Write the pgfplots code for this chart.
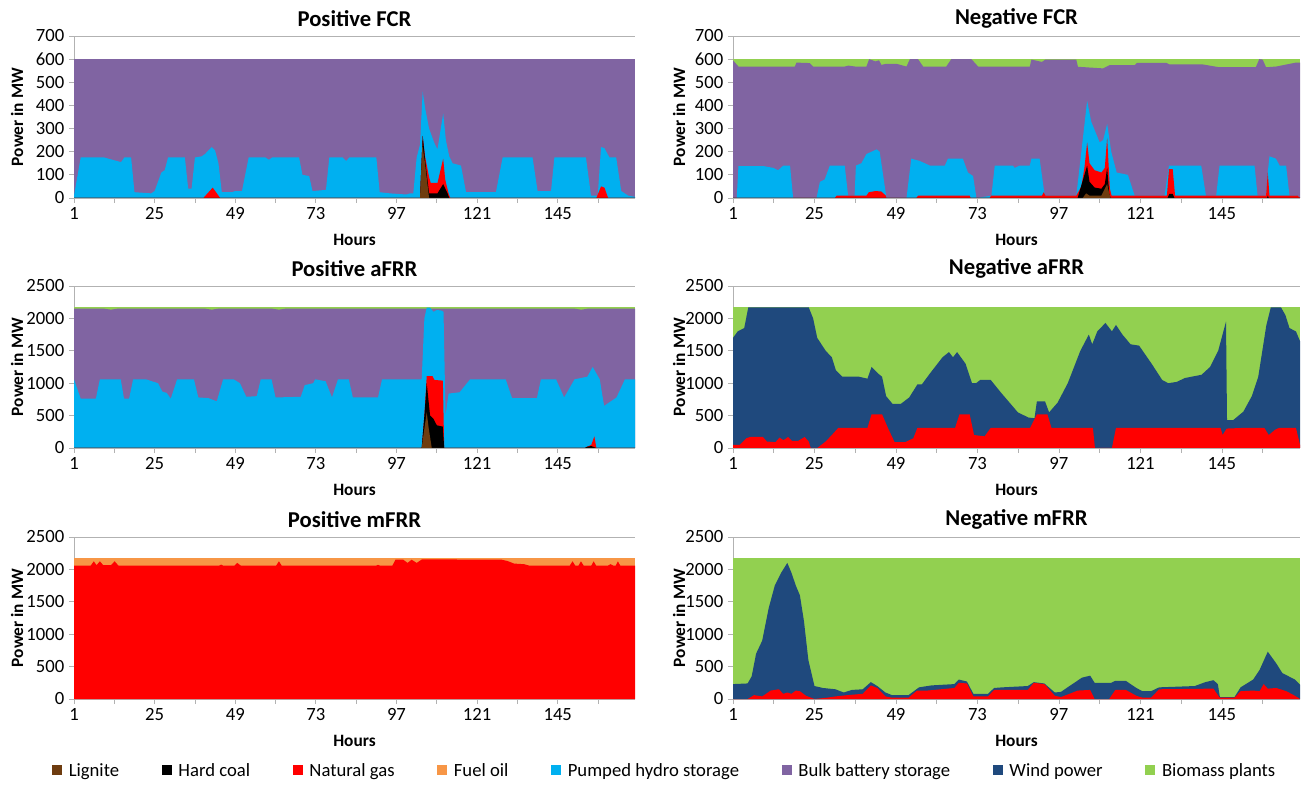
\documentclass[border=0pt]{standalone}
\usepackage{pgfplots}
\pgfplotsset{compat=1.18}
\usepackage{fontspec}
\setmainfont{Carlito}
\definecolor{lig}{RGB}{110,60,15}
\definecolor{coal}{RGB}{0,0,0}
\definecolor{gas}{RGB}{255,0,0}
\definecolor{oil}{RGB}{247,150,70}
\definecolor{hydro}{RGB}{0,176,240}
\definecolor{batt}{RGB}{128,100,162}
\definecolor{wind}{RGB}{31,73,125}
\definecolor{bio}{RGB}{146,208,80}
\pgfplotsset{
  ar/.style={draw=none, fill=#1, forget plot},
  myaxis/.style={
    scale only axis, height=121.5pt, xmin=1, xmax=168, ymin=0,
    enlargelimits=false,
    xtick={1,13,...,157}, xticklabels={1,,25,,49,,73,,97,,121,,145,},
    axis x line*=bottom, axis y line*=left,
    axis line style={draw=gray!60, line width=0.6pt, -},
    tick align=outside, major tick length=3.75pt,
    tick style={gray!60, line width=0.6pt},
    ymajorgrids, grid style={gray!60, line width=0.6pt},
    tick label style={font=\fontsize{14}{14}\selectfont},
    /pgf/number format/assume math mode=true,
    /pgf/number format/1000 sep={},
    xlabel=Hours, ylabel=Power in MW,
    label style={font=\bfseries\fontsize{13}{13}\selectfont},
    title style={font=\bfseries\fontsize{17}{17}\selectfont, at={(axis description cs:0.5,1)}, anchor=center, yshift=7pt},
    xlabel style={at={(axis description cs:0.5,0)}, anchor=center, yshift=-31.5pt},
    ylabel style={at={(axis description cs:-0.1016,0.5)}, anchor=center},
  },
  fcr/.style={ymax=700, ytick={0,100,...,700}},
  frr/.style={ymax=2500, ytick={0,500,...,2500}},
  leftcol/.style={width=420.75pt},
  rightcol/.style={width=425.25pt, ylabel style={at={(axis description cs:-0.095,0.5)}}},
}
\begin{document}
\begin{tikzpicture}
\useasboundingbox (0,0) rectangle (978.75pt,588.75pt);

% ---------------- Positive FCR
\begin{axis}[myaxis, fcr, leftcol, at={(55.5pt,440.25pt)}, anchor=south west, title={Positive FCR}]
\addplot[ar=batt] coordinates {(1,600)(168,600)} \closedcycle;
\addplot[ar=hydro] coordinates {(1,10)(3,175)(10,175)(15,155)(16,175)(18,175)(19,25)(24,20)(25,30)(27,110)(28,120)(29,175)(34,175)(35,40)(36,40)(37,175)(39,180)(40,190)(42,220)(43,205)(44,150)(45,25)(48,25)(49,30)(51,30)(53,175)(58,175)(59,165)(60,175)(68,175)(69,100)(71,95)(72,30)(76,35)(77,175)(81,175)(82,160)(83,175)(91,175)(92,25)(95,20)(100,15)(101,20)(102,20)(103,175)(104,230)(104.8,460)(105.5,390)(106.7,300)(108.2,240)(109.2,210)(110.9,365)(111.7,250)(112.7,180)(113.7,150)(116.2,140)(117.7,25)(126.6,25)(128.6,175)(137.5,175)(139,30)(143,30)(144,175)(153.4,175)(154.9,10)(156.9,10)(157.9,220)(158.9,215)(160.4,175)(162.4,175)(163.9,30)(166,10)(168,5)} \closedcycle;
\addplot[ar=gas] coordinates {(1,0)(39.5,0)(42.3,45)(44.5,0)(104,0)(104.8,268)(105.5,180)(106.7,90)(107.2,65)(109.2,65)(110.9,170)(111.5,80)(112.5,20)(113,0)(156.5,0)(157.9,50)(158.9,45)(160,0)(168,0)} \closedcycle;
\addplot[ar=coal] coordinates {(1,0)(104,0)(104.8,268)(105.5,170)(106.7,20)(109.2,20)(110.9,60)(112.2,20)(112.7,0)(168,0)} \closedcycle;
\addplot[ar=lig] coordinates {(1,0)(104,0)(104.7,230)(105.5,150)(106.7,0)(168,0)} \closedcycle;
\end{axis}

% ---------------- Negative FCR
\begin{axis}[myaxis, fcr, rightcol, at={(549.75pt,440.25pt)}, anchor=south west, title={Negative FCR}]
\addplot[ar=bio] coordinates {(1,600)(168,600)} \closedcycle;
\addplot[ar=batt] coordinates {(1,595)(2.6,568)(19.2,568)(19.7,585)(23.6,583)(24.6,568)(33.9,568)(35,572)(37,568)(40.3,568)(41.1,600)(43,590)(44,595)(44.7,575)(46.2,580)(49.1,580)(52.1,568)(53.1,600)(55.5,600)(57,568)(63.8,568)(65.3,600)(71.2,600)(73.2,568)(88.4,568)(88.9,598)(92,588)(93,598)(102.1,598)(102.6,567)(110,560)(111.9,574)(119.3,574)(120,584)(128.6,584)(129.6,577)(139.4,577)(143.8,566)(155,566)(156,600)(157,598)(158,565)(161,568)(166.8,585)(168,585)} \closedcycle;
\addplot[ar=hydro] coordinates {(1,0)(2.1,0)(2.6,138)(9.9,138)(12.9,130)(14.3,120)(15.8,140)(17.8,140)(18.7,0)(25.6,0)(26.6,70)(28,80)(29.5,140)(33.9,140)(34.9,10)(36.8,10)(37.2,140)(38.8,150)(40.3,190)(43.3,210)(44.2,200)(46.2,0)(52.1,0)(53.5,170)(56,160)(59,140)(63.4,140)(64.3,170)(68.7,170)(70.2,110)(71.7,95)(72.7,0)(77.1,10)(78.1,140)(83.4,140)(84,130)(85.4,140)(88.4,140)(88.9,170)(91.3,170)(92.8,10)(102.1,10)(103.6,200)(105.3,420)(106.5,330)(109,240)(110,250)(111.2,320)(112.4,200)(114,110)(117.3,100)(119.3,10)(128.1,10)(129.4,140)(138.9,140)(140.3,10)(143.3,10)(144.3,140)(154.6,140)(155.5,10)(158,10)(158.5,110)(159,180)(160.9,170)(162,140)(163.9,140)(164.9,10)(167,10)(168,0)} \closedcycle;
\addplot[ar=gas] coordinates {(1,0)(31,0)(31.5,10)(40.3,10)(41,25)(43,30)(44.7,28)(46,10)(46.2,0)(55,0)(55.5,10)(70.7,10)(71,0)(76.6,0)(77,10)(92,10)(92.5,25)(93,10)(102.1,10)(103.6,50)(104.5,130)(105.3,240)(106,150)(107.5,120)(109.5,110)(110.5,130)(111.2,260)(112,40)(112.5,10)(128.8,10)(129.4,125)(130.5,125)(131.2,10)(158,10)(158.5,110)(159,10)(167.3,10)(168,0)} \closedcycle;
\addplot[ar=coal] coordinates {(1,0)(102.5,0)(104.5,100)(105.3,140)(106,70)(107.5,45)(109.5,40)(110.5,60)(111.2,130)(111.8,20)(112.2,0)(129,0)(129.5,18)(130.5,18)(131,0)(158.3,0)(158.5,10)(158.8,0)(168,0)} \closedcycle;
\addplot[ar=lig] coordinates {(1,0)(104,0)(105,20)(106,10)(109.5,10)(110.5,40)(111.2,60)(111.8,20)(112.2,0)(168,0)} \closedcycle;
\end{axis}

% ---------------- Positive aFRR
\begin{axis}[myaxis, frr, leftcol, at={(55.5pt,252.75pt)}, anchor=south west, title={Positive aFRR}]
\addplot[ar=bio] coordinates {(1,2170)(168,2170)} \closedcycle;
\addplot[ar=batt] coordinates {(1,2150)(10,2150)(12,2135)(14,2150)(40,2150)(42,2135)(44,2150)(60,2150)(62,2135)(64,2150)(150,2150)(152,2135)(154,2150)(168,2150)} \closedcycle;
\addplot[ar=hydro] coordinates {(1,1060)(3,760)(7.5,760)(8.7,1060)(14.9,1060)(15.9,760)(17.4,760)(18.6,1060)(22.4,1060)(26,1000)(27.3,870)(28.6,850)(29.8,760)(31.7,1060)(36.7,1060)(38,780)(41,770)(43.5,720)(45.4,1060)(48.5,1060)(50.4,1000)(52.3,790)(55.4,800)(56.6,1060)(59.8,1060)(61,780)(68.5,790)(69.7,970)(72.2,1000)(72.8,1060)(75.9,1030)(77.8,780)(79.6,1060)(82.8,1060)(84,780)(91.5,780)(92.7,1060)(104.5,1060)(105.3,2000)(106,2165)(107,2165)(108,2100)(109,2130)(110.5,2120)(111,2100)(111.6,500)(112.5,840)(115.8,860)(118.9,1060)(129.5,1060)(131.4,770)(138.8,770)(140,1060)(144.5,1060)(146.9,780)(150,1060)(153.8,1100)(155.4,1250)(157.5,1060)(158.8,650)(162.5,780)(165,1060)(168,1060)} \closedcycle;
\addplot[ar=gas] coordinates {(1,0)(104.5,0)(105.3,500)(106,1110)(107.7,1110)(108.3,1050)(110.8,1040)(111.2,0)(153,0)(155,50)(155.9,180)(156.5,0)(168,0)} \closedcycle;
\addplot[ar=coal] coordinates {(1,0)(104.5,0)(105.3,500)(106,1000)(107,500)(108,450)(109,350)(110.8,330)(111.2,0)(153,0)(153.8,20)(155,30)(156,10)(156.5,0)(168,0)} \closedcycle;
\addplot[ar=lig] coordinates {(1,0)(104.5,0)(105.3,300)(106,550)(106.6,300)(107.5,0)(168,0)} \closedcycle;
\end{axis}

% ---------------- Negative aFRR
\begin{axis}[myaxis, frr, rightcol, at={(549.75pt,252.75pt)}, anchor=south west, title={Negative aFRR}]
\addplot[ar=bio] coordinates {(1,2170)(168,2170)} \closedcycle;
\addplot[ar=wind] coordinates {(1,1700)(2.4,1800)(4.3,1850)(5.5,2170)(23.3,2170)(24.6,2000)(25.8,1700)(28.3,1500)(30.1,1400)(31.3,1200)(33.2,1100)(38.1,1100)(40.6,1070)(41.8,1250)(43.7,1150)(44.9,1100)(46.1,800)(48,680)(50.4,680)(52.9,780)(55.3,980)(56.6,980)(59,1150)(62.7,1400)(64.6,1480)(65.8,1400)(67,1480)(69.5,1300)(71.4,1000)(72.6,1000)(73.8,1050)(76.9,1050)(80,850)(84.9,550)(88,470)(89.8,460)(90.5,720)(92.9,720)(94.1,550)(96.6,700)(99.6,1000)(103.3,1500)(105.8,1750)(106.8,1600)(108.3,1800)(110.7,1930)(112.6,1800)(113.8,1900)(115.7,1750)(118.1,1600)(120.6,1580)(124.3,1300)(127.4,1050)(129.2,1000)(131.7,1020)(134.1,1080)(139,1130)(141.5,1250)(143.9,1500)(146.2,1950)(146.5,430)(148.3,430)(151.3,560)(153.8,800)(155.7,1100)(158.1,1900)(159.4,2170)(162.4,2170)(163.7,2050)(164.9,1850)(166.8,1800)(168,1650)} \closedcycle;
\addplot[ar=gas] coordinates {(1,50)(3,50)(4.9,150)(6.1,170)(9.8,170)(11,100)(13.5,90)(14.7,160)(15.9,120)(17.2,170)(18.4,110)(20.2,110)(22.1,170)(23.3,100)(23.9,0)(25.8,0)(28.3,100)(30.1,200)(32,310)(40.6,310)(41.8,520)(44.9,520)(46.7,300)(48.6,90)(51.7,90)(54.1,150)(55.3,310)(66.4,310)(67.7,520)(70.7,520)(72,200)(75.1,180)(76.9,310)(88.5,310)(90.5,520)(93.6,520)(94.8,310)(107,310)(107.6,0)(112.6,0)(113.8,310)(144.6,310)(145.2,200)(146.4,300)(151.3,310)(157.5,310)(158.8,200)(160.6,280)(161.8,310)(166.8,310)(168,50)} \closedcycle;
\end{axis}

% ---------------- Positive mFRR
\begin{axis}[myaxis, frr, leftcol, at={(55.5pt,64.5pt)}, anchor=south west, title={Positive mFRR},
  legend columns=8,
  legend style={at={(axis description cs:1.0535,-0.444)}, anchor=center, draw=none, fill=none,
    font=\fontsize{14}{14}\selectfont,
    /tikz/every odd column/.append style={column sep=3pt},
    /tikz/every even column/.append style={column sep=30pt}},
  legend image code/.code={\path[#1] (0pt,-3.2pt) rectangle (7.5pt,4.3pt);}]
\addplot[ar=oil] coordinates {(1,2175)(168,2175)} \closedcycle;
\addplot[ar=gas] coordinates {(1,2060)(6,2060)(6.9,2125)(7.7,2065)(8.7,2125)(9.7,2065)(12,2065)(13.1,2125)(14.2,2060)(44.3,2060)(44.8,2075)(45.3,2060)(48.8,2060)(49.6,2100)(50.6,2060)(61.2,2060)(62,2125)(62.8,2060)(91,2060)(91.5,2070)(92,2060)(95.8,2060)(96.7,2150)(99,2150)(100.3,2100)(101.5,2150)(103,2100)(104.6,2155)(128.3,2150)(130,2130)(132,2090)(135,2080)(136.4,2060)(148.6,2060)(149.4,2125)(150.2,2060)(151.2,2060)(151.9,2125)(152.7,2060)(155,2060)(155.7,2125)(156.4,2060)(160,2060)(160.7,2080)(161.5,2060)(162.3,2060)(162.9,2125)(163.6,2060)(168,2060)} \closedcycle;
\addlegendimage{fill=lig, draw=none}\addlegendentry{Lignite}
\addlegendimage{fill=coal, draw=none}\addlegendentry{Hard coal}
\addlegendimage{fill=gas, draw=none}\addlegendentry{Natural gas}
\addlegendimage{fill=oil, draw=none}\addlegendentry{Fuel oil}
\addlegendimage{fill=hydro, draw=none}\addlegendentry{Pumped hydro storage}
\addlegendimage{fill=batt, draw=none}\addlegendentry{Bulk battery storage}
\addlegendimage{fill=wind, draw=none}\addlegendentry{Wind power}
\addlegendimage{fill=bio, draw=none}\addlegendentry{Biomass plants}
\end{axis}

% ---------------- Negative mFRR
\begin{axis}[myaxis, frr, rightcol, at={(549.75pt,64.5pt)}, anchor=south west, title={Negative mFRR}]
\addplot[ar=bio] coordinates {(1,2170)(168,2170)} \closedcycle;
\addplot[ar=wind] coordinates {(1,230)(5.3,240)(6.5,350)(7.8,700)(9.6,900)(11.5,1400)(13.3,1750)(15.2,1950)(17,2100)(18.2,1950)(19.5,1750)(20.7,1600)(21.9,1200)(23.2,600)(25,200)(27.5,170)(31.2,150)(33.6,100)(36,140)(39.2,150)(41.6,260)(43.5,200)(45.9,100)(47.8,60)(52.7,60)(55.8,180)(59.5,210)(66.2,230)(67.5,300)(69.9,270)(71.8,80)(76.1,80)(77.9,170)(80.4,180)(87.8,200)(89.6,260)(92.7,240)(95.8,100)(97.6,110)(100.1,200)(103.8,330)(106.2,360)(107.5,250)(112.4,250)(113.6,280)(116.7,280)(119.8,170)(121.6,120)(124.1,120)(126.5,180)(137,200)(140.1,260)(142.5,290)(143.8,230)(144.4,30)(148.7,30)(150.5,180)(154.2,300)(156.1,450)(158.5,730)(161,550)(162.8,400)(166.5,300)(168,220)} \closedcycle;
\addplot[ar=gas] coordinates {(1,0)(5.3,0)(7.2,60)(9.6,40)(12.1,130)(14.5,150)(15.8,80)(17,100)(18.2,80)(19.5,130)(20.7,120)(22.5,50)(25,0)(28.7,20)(31.2,40)(34.8,60)(39.2,80)(41.6,210)(43.5,170)(45.9,40)(47.8,20)(52.7,20)(55.2,130)(58.2,130)(66.2,170)(67.5,250)(69.9,240)(71.8,40)(76.1,40)(77.9,140)(87.8,140)(89.6,250)(92.7,230)(95.8,50)(97.6,30)(100.1,80)(102.5,130)(106.2,140)(107.5,0)(111.8,0)(113.6,140)(116.7,140)(119.8,50)(121.6,20)(124.1,20)(126.5,150)(142.5,160)(143.8,60)(144.4,20)(148.7,20)(150.5,120)(154.2,130)(156.1,120)(157.3,230)(158.5,160)(161,170)(164,120)(166.5,50)(168,0)} \closedcycle;
\end{axis}
\end{tikzpicture}
\end{document}
